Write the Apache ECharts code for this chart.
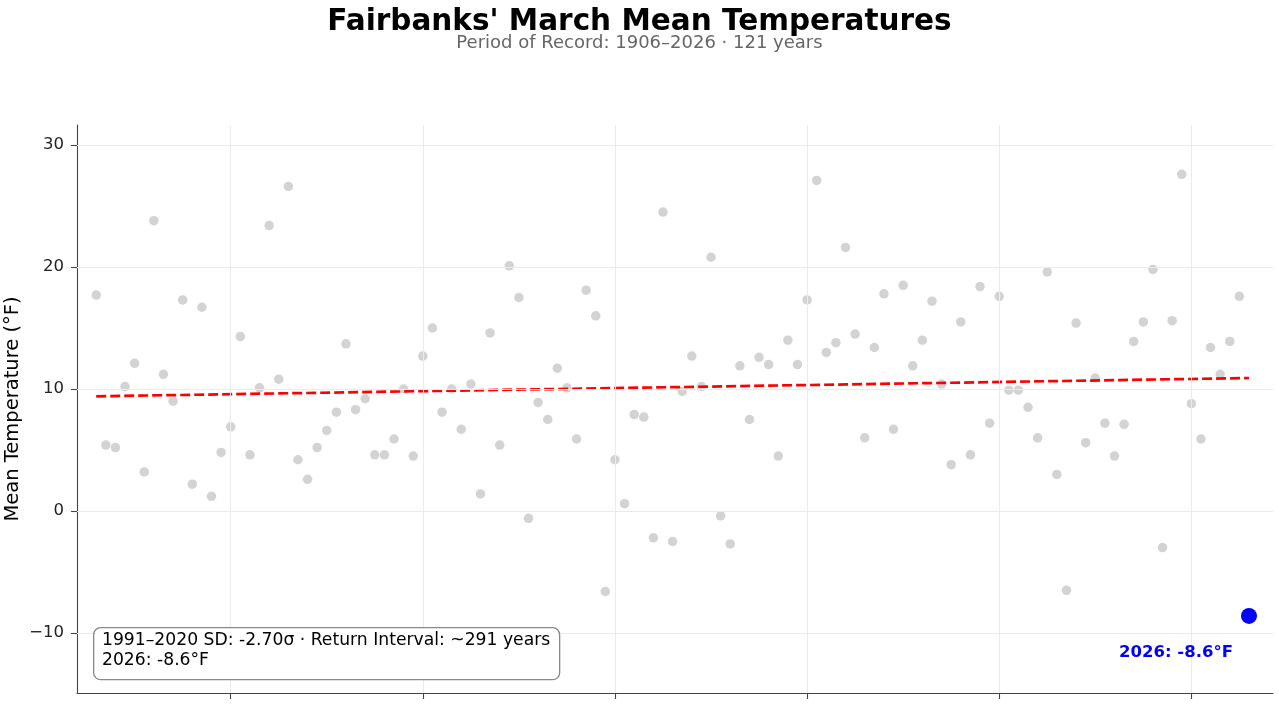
<!DOCTYPE html>
<html><head><meta charset="utf-8">
<script src="https://cdn.jsdelivr.net/npm/echarts@6/dist/echarts.min.js"></script>
<style>html,body{margin:0;padding:0;background:#fff}#c{width:1279px;height:704px}</style>
</head><body><div id="c"></div>
<script>
// ---- data ----
const firstYear = 1906;
const temps = [
  17.7, 5.4, 5.2, 10.2, 12.1, 3.2, 23.8, 11.2, 9.0, 17.3,
  2.2, 16.7, 1.2, 4.8, 6.9, 14.3, 4.6, 10.1, 23.4, 10.8,
  26.6, 4.2, 2.6, 5.2, 6.6, 8.1, 13.7, 8.3, 9.2, 4.6,
  4.6, 5.9, 10.0, 4.5, 12.7, 15.0, 8.1, 10.0, 6.7, 10.4,
  1.4, 14.6, 5.4, 20.1, 17.5, -0.6, 8.9, 7.5, 11.7, 10.1,
  5.9, 18.1, 16.0, -6.6, 4.2, 0.6, 7.9, 7.7, -2.2, 24.5,
  -2.5, 9.8, 12.7, 10.2, 20.8, -0.4, -2.7, 11.9, 7.5, 12.6,
  12.0, 4.5, 14.0, 12.0, 17.3, 27.1, 13.0, 13.8, 21.6, 14.5,
  6.0, 13.4, 17.8, 6.7, 18.5, 11.9, 14.0, 17.2, 10.4, 3.8,
  15.5, 4.6, 18.4, 7.2, 17.6, 9.9, 9.9, 8.5, 6.0, 19.6,
  3.0, -6.5, 15.4, 5.6, 10.9, 7.2, 4.5, 7.1, 13.9, 15.5,
  19.8, -3.0, 15.6, 27.6, 8.8, 5.9, 13.4, 11.2, 13.9, 17.6
];
const highlightYear = 2026;
const highlightTemp = -8.6;
const trendYears = [1906, 2026];
const trendTemps = [9.4, 10.9];
const xTicks = [1920, 1940, 1960, 1980, 2000, 2020];
const yTicks = [-10, 0, 10, 20, 30];
const titleText = "Fairbanks' March Mean Temperatures";
const subtitleText = "Period of Record: 1906\u20132026 \u00b7 121 years";
const boxLines = ["1991\u20132020 SD: -2.70\u03c3 \u00b7 Return Interval: ~291 years", "2026: -8.6\u00b0F"];

// ---- build ----
const FONT = '"DejaVu Sans", sans-serif';
const points = temps.map((t, i) => [firstYear + i, t]);
const trend = trendYears.map((y, i) => [y, trendTemps[i]]);
const gridMarks = xTicks.map(v => ({ xAxis: v })).concat(yTicks.map(v => ({ yAxis: v })));

const chart = echarts.init(document.getElementById('c'), null, { renderer: 'canvas' });
chart.setOption({
  animation: false,
  backgroundColor: '#fff',
  textStyle: { fontFamily: FONT },
  title: [
    { text: titleText, left: 'center', top: 2,
      textStyle: { fontFamily: FONT, fontSize: 29.5, fontWeight: 'bold', color: '#000' } },
    { text: subtitleText, left: 'center', top: 29,
      textStyle: { fontFamily: FONT, fontSize: 18, fontWeight: 'normal', color: '#666' } }
  ],
  grid: { left: 77, right: 6, top: 125, bottom: 11, containLabel: false, outerBoundsMode: 'none' },
  xAxis: {
    type: 'value', min: 1904, max: 2028.5,
    axisLine: { show: true, onZero: false, lineStyle: { color: '#444', width: 1.1 } },
    axisTick: { show: true, customValues: xTicks, length: 6, inside: false, lineStyle: { color: '#444', width: 1.1 } },
    axisLabel: { show: false },
    splitLine: { show: false }
  },
  yAxis: {
    type: 'value', min: -14.92, max: 31.64,
    name: 'Mean Temperature (\u00b0F)', nameLocation: 'middle', nameGap: 54, nameRotate: 90,
    nameMoveOverlap: false,
    nameTextStyle: { fontFamily: FONT, fontSize: 19.5, color: '#000' },
    axisLine: { show: true, onZero: false, lineStyle: { color: '#444', width: 1.1 } },
    axisTick: { show: true, customValues: yTicks, length: 6, inside: false, lineStyle: { color: '#444', width: 1.1 } },
    axisLabel: { show: true, customValues: yTicks, fontFamily: FONT, fontSize: 16.5, color: '#222', margin: 13,
      formatter: v => (v < 0 ? '\u2212' + Math.abs(v) : String(v)) },
    splitLine: { show: false }
  },
  series: [
    { type: 'line', data: [], z: 0, silent: true,
      markLine: { silent: true, symbol: 'none', label: { show: false }, animation: false,
        lineStyle: { color: '#ebebeb', width: 1, type: 'solid' }, data: gridMarks } },
    { type: 'scatter', data: points, symbolSize: 9.5, z: 2,
      itemStyle: { color: '#d3d3d3', opacity: 1 } },
    { type: 'line', data: trend, z: 3, symbol: 'none', silent: true,
      lineStyle: { color: '#ff0000', width: 2.7, type: [10, 4] } },
    { type: 'scatter', data: [[highlightYear, highlightTemp]], symbolSize: 16, z: 5,
      itemStyle: { color: '#0000ff', opacity: 1 },
      label: { show: true, position: 'inside', offset: [-73, 37],
        formatter: () => highlightYear + ': ' + highlightTemp.toFixed(1) + '\u00b0F',
        fontFamily: FONT, fontSize: 16.5, fontWeight: 'bold', color: '#0000ff', opacity: 1 } }
  ],
  graphic: [
    { type: 'rect', left: 93, top: 627, z: 10,
      shape: { width: 466, height: 52, r: 7 },
      style: { fill: '#fff', stroke: '#888', lineWidth: 1.3 } },
    { type: 'text', left: 102, top: 631, z: 11,
      style: { text: boxLines.join('\n'), fontFamily: FONT, fontSize: 17.2, lineHeight: 20, fill: '#000' } }
  ]
});
</script></body></html>
